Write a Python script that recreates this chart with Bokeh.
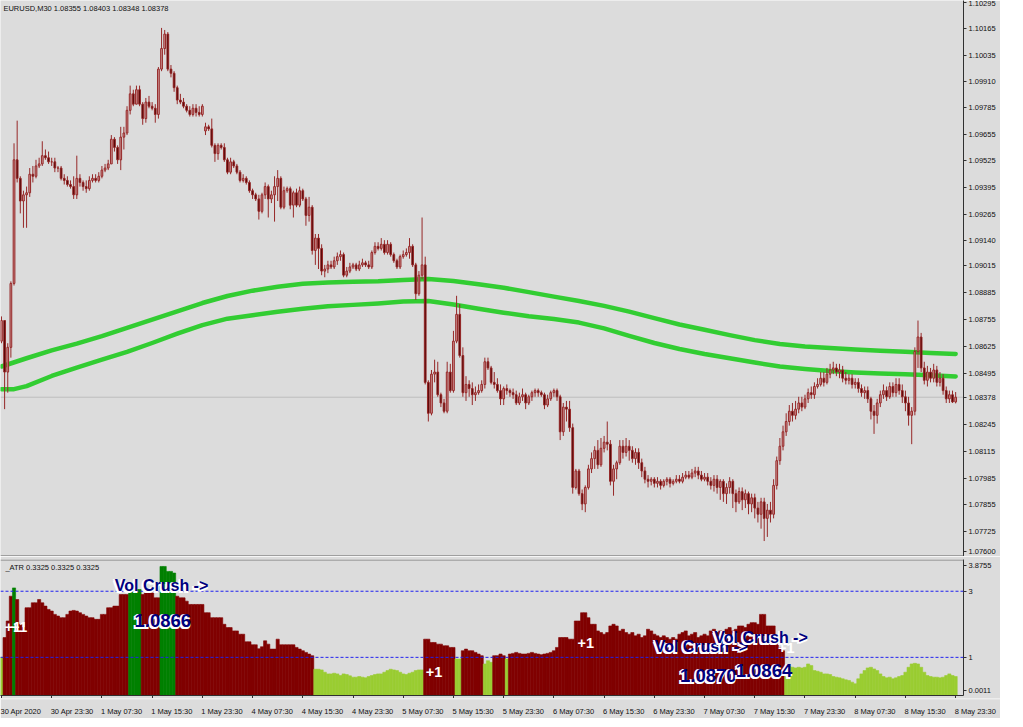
from bokeh.plotting import figure
from bokeh.models import Range1d, FixedTicker, Span, Label, ColumnDataSource, PrintfTickFormatter
from bokeh.layouts import column
from bokeh.embed import file_html
from bokeh.resources import INLINE

# ---------------- data (EURUSD M30) ----------------
opens = [
 1.0865, 1.0875, 1.0850, 1.0862, 1.0893, 1.0953, 1.0944, 1.0933, 1.0936, 1.0937,
 1.0946, 1.0945, 1.0950, 1.0951, 1.0955, 1.0954, 1.0952, 1.0952, 1.0949, 1.0949,
 1.0944, 1.0943, 1.0941, 1.0940, 1.0936, 1.0944, 1.0942, 1.0940, 1.0939, 1.0943,
 1.0944, 1.0943, 1.0945, 1.0948, 1.0949, 1.0951, 1.0963, 1.0959, 1.0953, 1.0964,
 1.0966, 1.0977, 1.0985, 1.0980, 1.0987, 1.0980, 1.0973, 1.0981, 1.0979, 1.0978,
 1.0975, 1.0997, 1.1007, 1.1014, 1.0997, 1.0995, 1.0988, 1.0982, 1.0981, 1.0979,
 1.0977, 1.0975, 1.0978, 1.0976, 1.0975, 1.0967, 1.0969, 1.0968, 1.0960, 1.0956,
 1.0960, 1.0959, 1.0953, 1.0947, 1.0952, 1.0950, 1.0947, 1.0943, 1.0944, 1.0942,
 1.0938, 1.0936, 1.0934, 1.0928, 1.0936, 1.0940, 1.0934, 1.0936, 1.0940, 1.0944,
 1.0930, 1.0938, 1.0939, 1.0931, 1.0937, 1.0931, 1.0938, 1.0934, 1.0926, 1.0930,
 1.0909, 1.0915, 1.0910, 1.0899, 1.0900, 1.0902, 1.0901, 1.0904, 1.0906, 1.0907,
 1.0897, 1.0899, 1.0901, 1.0902, 1.0900, 1.0902, 1.0903, 1.0902, 1.0901, 1.0908,
 1.0911, 1.0910, 1.0912, 1.0908, 1.0912, 1.0907, 1.0904, 1.0901, 1.0906, 1.0907,
 1.0908, 1.0911, 1.0902, 1.0888, 1.0897, 1.0902, 1.0845, 1.0830, 1.0849, 1.0850,
 1.0839, 1.0835, 1.0831, 1.0850, 1.0841, 1.0865, 1.0878, 1.0858, 1.0840, 1.0844,
 1.0842, 1.0839, 1.0840, 1.0841, 1.0844, 1.0855, 1.0852, 1.0845, 1.0844, 1.0841,
 1.0837, 1.0842, 1.0841, 1.0840, 1.0839, 1.0835, 1.0838, 1.0839, 1.0835, 1.0838,
 1.0840, 1.0841, 1.0840, 1.0839, 1.0834, 1.0837, 1.0840, 1.0841, 1.0838, 1.0821,
 1.0833, 1.0832, 1.0823, 1.0794, 1.0802, 1.0791, 1.0786, 1.0794, 1.0803, 1.0808,
 1.0812, 1.0805, 1.0813, 1.0816, 1.0815, 1.0797, 1.0803, 1.0806, 1.0814, 1.0811,
 1.0814, 1.0812, 1.0808, 1.0811, 1.0806, 1.0802, 1.0798, 1.0797, 1.0798, 1.0796,
 1.0797, 1.0795, 1.0797, 1.0798, 1.0796, 1.0797, 1.0798, 1.0797, 1.0799, 1.0800,
 1.0799, 1.0801, 1.0802, 1.0800, 1.0798, 1.0799, 1.0797, 1.0795, 1.0798, 1.0794,
 1.0797, 1.0791, 1.0794, 1.0797, 1.0791, 1.0787, 1.0792, 1.0788, 1.0791, 1.0786,
 1.0789, 1.0784, 1.0781, 1.0787, 1.0779, 1.0783, 1.0781, 1.0795, 1.0807, 1.0814,
 1.0821, 1.0826, 1.0831, 1.0829, 1.0832, 1.0835, 1.0833, 1.0837, 1.0840, 1.0839,
 1.0843, 1.0844, 1.0847, 1.0845, 1.0849, 1.0851, 1.0852, 1.0850, 1.0851, 1.0847,
 1.0846, 1.0847, 1.0844, 1.0845, 1.0842, 1.0840, 1.0841, 1.0837, 1.0831, 1.0829,
 1.0835, 1.0839, 1.0841, 1.0838, 1.0843, 1.0840, 1.0844, 1.0841, 1.0838, 1.0835,
 1.0829, 1.0831, 1.0860, 1.0867, 1.0852, 1.0846, 1.0850, 1.0847, 1.0851, 1.0845,
 1.0847, 1.0841, 1.0837, 1.0839, 1.08355]

highs = [
 1.0877, 1.0875, 1.0864, 1.0894, 1.0961, 1.0972, 1.0945, 1.0938, 1.0940, 1.0949,
 1.0950, 1.0953, 1.0954, 1.0962, 1.0958, 1.0957, 1.0954, 1.0954, 1.0950, 1.0950,
 1.0946, 1.0945, 1.0943, 1.0945, 1.0955, 1.0946, 1.0943, 1.0943, 1.0945, 1.0946,
 1.0946, 1.0947, 1.0950, 1.0951, 1.0953, 1.0965, 1.0964, 1.0960, 1.0969, 1.0969,
 1.0979, 1.0989, 1.0987, 1.0989, 1.0989, 1.0981, 1.0983, 1.0984, 1.0981, 1.0980,
 1.0998, 1.1017, 1.1016, 1.1015, 1.0999, 1.0996, 1.0989, 1.0985, 1.0983, 1.0980,
 1.0979, 1.0980, 1.0980, 1.0979, 1.0980, 1.0971, 1.0970, 1.0973, 1.0961, 1.0961,
 1.0961, 1.0961, 1.0954, 1.0954, 1.0953, 1.0951, 1.0948, 1.0946, 1.0945, 1.0943,
 1.0939, 1.0937, 1.0936, 1.0937, 1.0942, 1.0941, 1.0938, 1.0945, 1.0948, 1.0945,
 1.0940, 1.0940, 1.0940, 1.0938, 1.0939, 1.0940, 1.0939, 1.0935, 1.0935, 1.0931,
 1.0917, 1.0917, 1.0912, 1.0902, 1.0904, 1.0904, 1.0906, 1.0908, 1.0909, 1.0908,
 1.0901, 1.0903, 1.0903, 1.0903, 1.0904, 1.0905, 1.0904, 1.0904, 1.0909, 1.0913,
 1.0913, 1.0915, 1.0914, 1.0914, 1.0913, 1.0908, 1.0905, 1.0907, 1.0909, 1.0910,
 1.0915, 1.0912, 1.0903, 1.0899, 1.0925, 1.0906, 1.0846, 1.0851, 1.0856, 1.0855,
 1.0840, 1.0837, 1.0855, 1.0854, 1.0870, 1.0887, 1.0883, 1.0862, 1.0848, 1.0846,
 1.0845, 1.0843, 1.0844, 1.0846, 1.0857, 1.0857, 1.0853, 1.0850, 1.0847, 1.0844,
 1.0843, 1.0844, 1.0842, 1.0842, 1.0841, 1.0840, 1.0842, 1.0840, 1.0839, 1.0841,
 1.0842, 1.0842, 1.0841, 1.0840, 1.0839, 1.0841, 1.0842, 1.0842, 1.0839, 1.0835,
 1.0836, 1.0836, 1.0825, 1.0803, 1.0803, 1.0793, 1.0795, 1.0805, 1.0811, 1.0814,
 1.0817, 1.0818, 1.0819, 1.0826, 1.0817, 1.0805, 1.0807, 1.0817, 1.0817, 1.0818,
 1.0817, 1.0814, 1.0813, 1.0813, 1.0808, 1.0804, 1.0800, 1.0799, 1.0799, 1.0799,
 1.0798, 1.0798, 1.0799, 1.0799, 1.0798, 1.0800, 1.0800, 1.0801, 1.0802, 1.0802,
 1.0803, 1.0804, 1.0804, 1.0802, 1.0801, 1.0801, 1.0799, 1.0800, 1.0800, 1.0798,
 1.0798, 1.0796, 1.0799, 1.0798, 1.0793, 1.0794, 1.0794, 1.0793, 1.0792, 1.0791,
 1.0791, 1.0787, 1.0789, 1.0789, 1.0786, 1.0787, 1.0798, 1.0809, 1.0818, 1.0824,
 1.0830, 1.0834, 1.0835, 1.0836, 1.0838, 1.0838, 1.0839, 1.0842, 1.0843, 1.0845,
 1.0847, 1.0850, 1.0850, 1.0852, 1.0854, 1.0855, 1.0854, 1.0854, 1.0853, 1.0850,
 1.0849, 1.0849, 1.0847, 1.0847, 1.0844, 1.0843, 1.0843, 1.0838, 1.0834, 1.0837,
 1.0841, 1.0844, 1.0843, 1.0845, 1.0845, 1.0847, 1.0847, 1.0844, 1.0841, 1.0838,
 1.0833, 1.0862, 1.0875, 1.0869, 1.0855, 1.0853, 1.0852, 1.0854, 1.0853, 1.0850,
 1.0849, 1.0843, 1.0841, 1.0841, 1.08403]

lows = [
 1.0864, 1.0832, 1.0840, 1.0857, 1.0892, 1.0942, 1.0927, 1.0920, 1.0920, 1.0935,
 1.0942, 1.0944, 1.0949, 1.0950, 1.0953, 1.0951, 1.0950, 1.0947, 1.0947, 1.0943,
 1.0941, 1.0940, 1.0939, 1.0934, 1.0934, 1.0940, 1.0938, 1.0937, 1.0938, 1.0942,
 1.0942, 1.0942, 1.0944, 1.0947, 1.0948, 1.0951, 1.0957, 1.0951, 1.0948, 1.0958,
 1.0965, 1.0975, 1.0979, 1.0980, 1.0979, 1.0970, 1.0971, 1.0978, 1.0977, 1.0971,
 1.0973, 1.0996, 1.1004, 1.0996, 1.0993, 1.0986, 1.0980, 1.0980, 1.0978, 1.0976,
 1.0974, 1.0974, 1.0974, 1.0974, 1.0974, 1.0965, 1.0967, 1.0959, 1.0952, 1.0953,
 1.0958, 1.0952, 1.0946, 1.0946, 1.0949, 1.0946, 1.0942, 1.0942, 1.0941, 1.0937,
 1.0934, 1.0933, 1.0924, 1.0927, 1.0934, 1.0925, 1.0932, 1.0923, 1.0933, 1.0929,
 1.0929, 1.0937, 1.0929, 1.0925, 1.0930, 1.0930, 1.0933, 1.0921, 1.0923, 1.0907,
 1.0902, 1.0900, 1.0897, 1.0896, 1.0898, 1.0900, 1.0900, 1.0902, 1.0904, 1.0896,
 1.0896, 1.0898, 1.0900, 1.0899, 1.0899, 1.0901, 1.0901, 1.0900, 1.0900, 1.0907,
 1.0909, 1.0909, 1.0907, 1.0907, 1.0906, 1.0903, 1.0900, 1.0900, 1.0905, 1.0906,
 1.0905, 1.0901, 1.0885, 1.0887, 1.0895, 1.0844, 1.0826, 1.0829, 1.0845, 1.0838,
 1.0833, 1.0830, 1.0830, 1.0840, 1.0840, 1.0864, 1.0857, 1.0838, 1.0836, 1.0838,
 1.0834, 1.0836, 1.0839, 1.0840, 1.0842, 1.0851, 1.0844, 1.0842, 1.0840, 1.0834,
 1.0834, 1.0839, 1.0838, 1.0837, 1.0834, 1.0834, 1.0836, 1.0832, 1.0834, 1.0836,
 1.0838, 1.0838, 1.0838, 1.0832, 1.0833, 1.0836, 1.0838, 1.0836, 1.0817, 1.0819,
 1.0826, 1.0821, 1.0791, 1.0793, 1.0790, 1.0783, 1.0782, 1.0793, 1.0801, 1.0803,
 1.0803, 1.0804, 1.0811, 1.0812, 1.0795, 1.0790, 1.0798, 1.0805, 1.0808, 1.0809,
 1.0807, 1.0806, 1.0805, 1.0803, 1.0799, 1.0796, 1.0794, 1.0795, 1.0794, 1.0794,
 1.0793, 1.0794, 1.0795, 1.0794, 1.0795, 1.0796, 1.0796, 1.0796, 1.0798, 1.0798,
 1.0798, 1.0799, 1.0798, 1.0797, 1.0797, 1.0795, 1.0793, 1.0792, 1.0791, 1.0788,
 1.0787, 1.0786, 1.0791, 1.0784, 1.0782, 1.0786, 1.0783, 1.0784, 1.0781, 1.0782,
 1.0779, 1.0777, 1.0774, 1.0768, 1.0770, 1.0777, 1.0779, 1.0793, 1.0805, 1.0812,
 1.0819, 1.0824, 1.0826, 1.0827, 1.0830, 1.0831, 1.0832, 1.0835, 1.0837, 1.0837,
 1.0842, 1.0843, 1.0843, 1.0844, 1.0847, 1.0849, 1.0848, 1.0847, 1.0845, 1.0844,
 1.0844, 1.0842, 1.0842, 1.0840, 1.0838, 1.0837, 1.0835, 1.0827, 1.0820, 1.0825,
 1.0833, 1.0837, 1.0836, 1.0837, 1.0838, 1.0838, 1.0839, 1.0835, 1.0831, 1.0824,
 1.0815, 1.0829, 1.0852, 1.0850, 1.0844, 1.0843, 1.0845, 1.0845, 1.0843, 1.0843,
 1.0839, 1.0835, 1.0835, 1.0835, 1.08348]

closes = [
 1.0875, 1.0850, 1.0862, 1.0893, 1.0953, 1.0944, 1.0933, 1.0936, 1.0937, 1.0946,
 1.0945, 1.0950, 1.0951, 1.0955, 1.0954, 1.0952, 1.0952, 1.0949, 1.0949, 1.0944,
 1.0943, 1.0941, 1.0940, 1.0936, 1.0944, 1.0942, 1.0940, 1.0939, 1.0943, 1.0944,
 1.0943, 1.0945, 1.0948, 1.0949, 1.0951, 1.0963, 1.0959, 1.0953, 1.0964, 1.0966,
 1.0977, 1.0985, 1.0980, 1.0987, 1.0980, 1.0973, 1.0981, 1.0979, 1.0978, 1.0975,
 1.0997, 1.1007, 1.1014, 1.0997, 1.0995, 1.0988, 1.0982, 1.0981, 1.0979, 1.0977,
 1.0975, 1.0978, 1.0976, 1.0975, 1.0979, 1.0969, 1.0968, 1.0960, 1.0956, 1.0960,
 1.0959, 1.0953, 1.0947, 1.0952, 1.0950, 1.0947, 1.0943, 1.0944, 1.0942, 1.0938,
 1.0936, 1.0934, 1.0928, 1.0936, 1.0940, 1.0934, 1.0936, 1.0940, 1.0944, 1.0930,
 1.0938, 1.0939, 1.0931, 1.0937, 1.0931, 1.0938, 1.0934, 1.0926, 1.0930, 1.0909,
 1.0915, 1.0910, 1.0899, 1.0900, 1.0902, 1.0901, 1.0904, 1.0906, 1.0907, 1.0897,
 1.0899, 1.0901, 1.0902, 1.0900, 1.0902, 1.0903, 1.0902, 1.0901, 1.0908, 1.0911,
 1.0910, 1.0912, 1.0908, 1.0912, 1.0907, 1.0904, 1.0901, 1.0906, 1.0907, 1.0908,
 1.0911, 1.0902, 1.0888, 1.0897, 1.0902, 1.0845, 1.0830, 1.0849, 1.0850, 1.0839,
 1.0835, 1.0831, 1.0850, 1.0841, 1.0865, 1.0878, 1.0858, 1.0840, 1.0844, 1.0842,
 1.0839, 1.0840, 1.0841, 1.0844, 1.0855, 1.0852, 1.0845, 1.0844, 1.0841, 1.0837,
 1.0842, 1.0841, 1.0840, 1.0839, 1.0835, 1.0838, 1.0839, 1.0835, 1.0838, 1.0840,
 1.0841, 1.0840, 1.0839, 1.0834, 1.0837, 1.0840, 1.0841, 1.0838, 1.0821, 1.0833,
 1.0832, 1.0823, 1.0794, 1.0802, 1.0791, 1.0786, 1.0794, 1.0803, 1.0808, 1.0812,
 1.0805, 1.0813, 1.0816, 1.0815, 1.0797, 1.0803, 1.0806, 1.0814, 1.0811, 1.0814,
 1.0812, 1.0808, 1.0811, 1.0806, 1.0802, 1.0798, 1.0797, 1.0798, 1.0796, 1.0797,
 1.0795, 1.0797, 1.0798, 1.0796, 1.0797, 1.0798, 1.0797, 1.0799, 1.0800, 1.0799,
 1.0801, 1.0802, 1.0800, 1.0798, 1.0799, 1.0797, 1.0795, 1.0798, 1.0794, 1.0797,
 1.0791, 1.0794, 1.0797, 1.0791, 1.0787, 1.0792, 1.0788, 1.0791, 1.0786, 1.0789,
 1.0784, 1.0781, 1.0787, 1.0779, 1.0783, 1.0781, 1.0795, 1.0807, 1.0814, 1.0821,
 1.0826, 1.0831, 1.0829, 1.0832, 1.0835, 1.0833, 1.0837, 1.0840, 1.0839, 1.0843,
 1.0844, 1.0847, 1.0845, 1.0849, 1.0851, 1.0852, 1.0850, 1.0851, 1.0847, 1.0846,
 1.0847, 1.0844, 1.0845, 1.0842, 1.0840, 1.0841, 1.0837, 1.0831, 1.0829, 1.0835,
 1.0839, 1.0841, 1.0838, 1.0843, 1.0840, 1.0844, 1.0841, 1.0838, 1.0835, 1.0829,
 1.0831, 1.0860, 1.0867, 1.0852, 1.0846, 1.0850, 1.0847, 1.0851, 1.0845, 1.0847,
 1.0841, 1.0837, 1.0839, 1.08355, 1.08378]

# two moving averages, read at these bar numbers
ma_fast_bars = [0, 8, 16, 24, 32, 40, 48, 56, 64, 72, 80, 88, 96, 104, 112, 120, 128, 136, 144, 152,
                160, 168, 176, 184, 192, 200, 208, 216, 224, 232, 240, 248, 256, 264, 272, 280, 288, 296, 304]
ma_fast = [1.08527, 1.08567, 1.08605, 1.08638, 1.08674, 1.08714, 1.08755, 1.08795, 1.08835, 1.08869,
           1.08895, 1.08914, 1.08928, 1.08935, 1.08938, 1.08941, 1.08947, 1.08952, 1.08942, 1.08926,
           1.08909, 1.08888, 1.08866, 1.08845, 1.08821, 1.08793, 1.08762, 1.08731, 1.08705, 1.08679,
           1.08655, 1.08636, 1.08624, 1.08617, 1.08610, 1.08603, 1.08598, 1.08593, 1.08588]
ma_slow_bars = [0, 4, 8, 16, 24, 32, 40, 48, 56, 64, 72, 80, 88, 96, 104, 112, 120, 128, 136, 144,
                152, 160, 168, 176, 184, 192, 200, 208, 216, 224, 232, 240, 248, 256, 264, 272, 280, 288, 296, 304]
ma_slow = [1.08417, 1.08417, 1.08432, 1.08481, 1.08522, 1.08560, 1.08598, 1.08641, 1.08686, 1.08728,
           1.08759, 1.08776, 1.08793, 1.08807, 1.08819, 1.08826, 1.08833, 1.08842, 1.08845, 1.08828,
           1.08807, 1.08788, 1.08771, 1.08757, 1.08740, 1.08712, 1.08676, 1.08641, 1.08612, 1.08588,
           1.08567, 1.08546, 1.08527, 1.08515, 1.08505, 1.08498, 1.08493, 1.08489, 1.08484, 1.08479]

# ATR histogram
atr = [
 1.0, 1.6, 2.1, 2.85, 3.1, 2.75, 2.0, 1.9, 2.5, 2.5,
 2.65, 2.65, 2.75, 2.65, 2.55, 2.45, 2.4, 2.3, 2.25, 2.2,
 2.2, 2.3, 2.4, 2.42, 2.4, 2.35, 2.3, 2.25, 2.2, 2.2,
 2.15, 2.15, 2.3, 2.3, 2.5, 2.5, 2.55, 2.55, 2.9, 2.9,
 2.9, 3.05, 3.05, 3.05, 3.05, 2.9, 2.95, 2.95, 2.95, 2.8,
 2.8, 3.75, 3.75, 3.6, 3.6, 3.55, 2.85, 2.8, 2.8, 2.7,
 2.6, 2.6, 2.6, 2.6, 2.6, 2.35, 2.35, 2.2, 2.2, 2.2,
 2.2, 2.0, 1.9, 1.9, 1.8, 1.8, 1.7, 1.7, 1.47, 1.47,
 1.38, 1.38, 1.26, 1.32, 1.5, 1.4, 1.25, 1.25, 1.55, 1.38,
 1.38, 1.38, 1.38, 1.38, 1.3, 1.25, 1.2, 1.15, 1.1, 1.05,
 0.64, 0.64, 0.62, 0.55, 0.5, 0.5, 0.52, 0.5, 0.45, 0.5,
 0.48, 0.44, 0.4, 0.4, 0.42, 0.4, 0.38, 0.42, 0.45, 0.48,
 0.5, 0.5, 0.55, 0.6, 0.64, 0.62, 0.6, 0.55, 0.5, 0.48,
 0.52, 0.55, 0.6, 0.62, 0.62, 1.55, 1.55, 1.45, 1.45, 1.4,
 1.4, 1.35, 1.35, 1.3, 1.3, 0.95, 0.95, 1.2, 1.25, 1.2,
 1.2, 1.15, 1.1, 1.05, 0.8, 0.9, 0.85, 1.05, 1.05, 1.1,
 1.05, 0.95, 1.1, 1.12, 1.15, 1.12, 1.1, 1.1, 1.12, 1.15,
 1.12, 1.1, 1.08, 1.1, 1.12, 1.15, 1.2, 1.3, 1.6, 1.6,
 1.6, 1.55, 1.55, 2.1, 2.1, 2.35, 2.35, 2.2, 2.0, 2.0,
 1.8, 1.75, 1.7, 1.75, 1.95, 2.0, 1.95, 1.8, 1.85, 1.75,
 1.7, 1.75, 1.65, 1.7, 1.6, 1.65, 1.85, 1.8, 1.7, 1.65,
 1.6, 1.65, 1.6, 1.55, 1.6, 1.55, 1.7, 1.75, 1.8, 1.65,
 1.7, 1.75, 1.6, 1.65, 1.7, 1.65, 1.8, 1.85, 1.75, 1.8,
 1.7, 1.85, 1.9, 1.8, 1.85, 1.95, 1.95, 1.9, 2.0, 2.05,
 2.05, 2.0, 2.3, 2.3, 1.95, 1.95, 1.95, 1.5, 1.3, 1.2,
 0.7, 0.72, 0.7, 0.68, 0.7, 0.68, 0.7, 0.8, 0.75, 0.6,
 0.58, 0.55, 0.5, 0.5, 0.48, 0.42, 0.4, 0.38, 0.35, 0.32,
 0.3, 0.25, 0.2, 0.35, 0.5, 0.6, 0.68, 0.7, 0.65, 0.6,
 0.5, 0.42, 0.38, 0.4, 0.35, 0.38, 0.42, 0.45, 0.55, 0.7,
 0.8, 0.82, 0.8, 0.7, 0.55, 0.45, 0.42, 0.4, 0.4, 0.38,
 0.4, 0.45, 0.5, 0.45, 0.42]
# volatility state of each bar, as runs: (state, number of bars)
zone_runs = [("low", 1), ("high", 3), ("spike", 1), ("high", 36), ("spike", 4), ("high", 6), ("spike", 5),
             ("high", 44), ("low", 35), ("high", 10), ("low", 2), ("high", 7), ("low", 3), ("high", 4),
             ("low", 1), ("high", 88), ("low", 55)]

last_price = 1.08378
price_ticks = [1.10295, 1.10165, 1.10035, 1.09910, 1.09785, 1.09655, 1.09525, 1.09395, 1.09265, 1.09140,
               1.09015, 1.08885, 1.08755, 1.08625, 1.08495, last_price, 1.08245, 1.08115, 1.07985, 1.07855,
               1.07725, 1.07630]
price_tick_text = {1.07630: "1.07600"}
atr_ticks = [0.0011, 1, 3, 3.78]
atr_tick_text = {0.0011: "0.0011", 1: "1", 3: "3", 3.78: "3.8755"}
atr_levels = [3, 1]
time_label_bars = [0, 16, 32, 48, 64, 80, 96, 112, 128, 144, 160, 176, 192, 208, 224, 240, 256, 272, 288, 304]
time_labels = ["30 Apr 2020", "30 Apr 23:30", "1 May 07:30", "1 May 15:30", "1 May 23:30", "4 May 07:30",
               "4 May 15:30", "4 May 23:30", "5 May 07:30", "5 May 15:30", "5 May 23:30", "6 May 07:30",
               "6 May 15:30", "6 May 23:30", "7 May 07:30", "7 May 15:30", "7 May 23:30", "8 May 07:30",
               "8 May 15:30", "8 May 23:30"]
title_text = "EURUSD,M30  1.08355 1.08403 1.08348 1.08378"
atr_title = "_ATR 0.3325 0.3325 0.3325"
# chart objects in the ATR window: (bar, value, text, kind)
marks = [
    (36.1, 3.16, "Vol Crush ->", "crush"),
    (42.4, 2.12, "1.0866", "level"),
    (1.0, 1.92, "+1", "plus"),
    (3.0, 1.92, "+1", "plus"),
    (135.2, 0.56, "+1", "plus"),
    (183.5, 1.44, "+1", "plus"),
    (208.1, 1.33, "Vol Crush ->", "crush"),
    (216.2, 0.44, "1.0870", "level"),
    (247.4, 1.27, "+1", "plus"),
    (227.1, 1.59, "Vol Crush ->", "crush"),
    (233.9, 0.59, "1.0864", "level"),
]

# ---------------- styling ----------------
BG = "#DCDCDC"
FONT = "Liberation Sans"
WICK = "#962828"
BULL = "#CD9696"
BEAR = "#4A0000"
ZONE_COL = {"high": "#800000", "spike": "#008000", "low": "#9ACD32"}
W, TOP_H, BOT_H, RB = 1000, 556, 142, 37
X0, X1 = -0.31, 306.5
FRAME_W = W - RB
UNITS_PER_PX = (X1 - X0) / FRAME_W
AXIS_FONT_PX = 7.5

n = len(closes)
idx = list(range(n))
x_rng = Range1d(X0, X1)

top = figure(width=W, height=TOP_H, x_range=x_rng, y_range=Range1d(1.07605, 1.10303),
             x_axis_location=None, y_axis_location="right", toolbar_location=None,
             output_backend="svg", background_fill_color=BG, border_fill_color=BG,
             outline_line_color=None, min_border_left=0, min_border_top=0,
             min_border_bottom=0, min_border_right=RB)
top.grid.visible = False

top.add_layout(Span(location=last_price, dimension="width", line_color="#BDBDBD", line_width=1, level="underlay"))
top.add_layout(Span(location=1.07608, dimension="width", line_color="#7A7A7A", line_width=1))

top.line(ma_fast_bars, ma_fast, line_color="#32CD32", line_width=4.5, line_join="round", line_cap="round")
top.line(ma_slow_bars, ma_slow, line_color="#32CD32", line_width=4.5, line_join="round", line_cap="round")

src = ColumnDataSource(dict(
    x=idx, h=highs, l=lows,
    top=[max(o, c) for o, c in zip(opens, closes)],
    bot=[min(o, c) for o, c in zip(opens, closes)],
    fill=[BULL if c >= o else BEAR for o, c in zip(opens, closes)]))
top.segment(x0="x", y0="l", x1="x", y1="h", source=src, line_color=WICK, line_width=1)
top.vbar(x="x", width=0.55, top="top", bottom="bot", fill_color="fill", line_color=WICK, line_width=1, source=src)

ya = top.yaxis[0]
ya.ticker = FixedTicker(ticks=price_ticks)
ya.formatter = PrintfTickFormatter(format="%.5f")
ya.major_label_overrides = price_tick_text

top.add_layout(Label(x=0.62, y=1.10265, text=title_text, text_font=FONT, text_font_size="7.5px",
                     text_color="#101010", text_align="left", text_baseline="middle"))

# ---------------- lower panel ----------------
bot = figure(width=W, height=BOT_H, x_range=x_rng, y_range=Range1d(-0.154, 3.96),
             y_axis_location="right", toolbar_location=None, output_backend="svg",
             background_fill_color=BG, border_fill_color=BG, outline_line_color=None,
             min_border_left=0, min_border_top=3, min_border_bottom=0, min_border_right=RB)
bot.grid.visible = False

zones = []
for state, count in zone_runs:
    zones += [state] * count
zcol = [ZONE_COL[z] for z in zones]
bot.vbar(x=idx, width=1.0, top=atr, bottom=-0.154, fill_color=zcol, line_color=zcol, line_width=0.6)
for lv in atr_levels:
    bot.add_layout(Span(location=lv, dimension="width", line_color="#2020F0", line_dash="3 2", line_width=1))
bot.add_layout(Span(location=3.945, dimension="width", line_color="#7A7A7A", line_width=1))

ya2 = bot.yaxis[0]
ya2.ticker = FixedTicker(ticks=atr_ticks)
ya2.major_label_overrides = atr_tick_text

# time axis line and tick marks at the labelled bars
xa = bot.xaxis[0]
xa.ticker = FixedTicker(ticks=time_label_bars)
xa.major_label_overrides = {b: "" for b in time_label_bars}
xa.major_label_text_font_size = "1px"
xa.major_label_standoff = 0
xa.major_tick_out = 3
xa.major_tick_in = 0
xa.minor_tick_out = 0
xa.minor_tick_in = 0
xa.axis_line_color = "#303030"
xa.major_tick_line_color = "#303030"

for ax in (ya, ya2):
    ax.major_tick_out = 3
    ax.major_tick_in = 0
    ax.minor_tick_out = 0
    ax.minor_tick_in = 0
    ax.major_label_standoff = 2
    ax.axis_line_color = "#303030"
    ax.major_tick_line_color = "#303030"
    ax.major_label_text_font = FONT
    ax.major_label_text_font_size = "7.5px"
    ax.major_label_text_color = "#101010"

bot.add_layout(Label(x=1.25, y=3.73, text=atr_title, text_font=FONT, text_font_size="7.5px",
                     text_color="#101010", text_align="left", text_baseline="middle"))


def outlined(fig, x, y, text, size, color, shadow):
    for dx, dy in ((-2, 0), (-2, -2), (0, -2), (-1, -1)):
        fig.add_layout(Label(x=x, y=y, x_offset=dx, y_offset=dy, text=text, text_font=FONT,
                             text_font_size=size, text_font_style="bold", text_color=shadow,
                             text_align="left", text_baseline="middle"))
    fig.add_layout(Label(x=x, y=y, text=text, text_font=FONT, text_font_size=size,
                         text_font_style="bold", text_color=color, text_align="left",
                         text_baseline="middle"))


for bx, vy, txt, kind in marks:
    if kind == "crush":
        outlined(bot, bx, vy, txt, "16px", "#000080", "white")
    elif kind == "level":
        outlined(bot, bx, vy, txt, "18.5px", "#000080", "white")
    else:
        bot.add_layout(Label(x=bx, y=vy, text=txt, text_font=FONT, text_font_size="14.5px",
                             text_font_style="bold", text_color="white", text_align="left",
                             text_baseline="middle"))

# ---------------- time labels: a strip as wide as the whole chart, same bar scale ----------------
CHAR_EM = {" ": 0.278, ":": 0.278, "A": 0.667, "p": 0.556, "r": 0.333, "M": 0.833, "a": 0.556, "y": 0.5}


def half_width_units(s):
    em = sum(CHAR_EM.get(ch, 0.556) for ch in s)
    return (em * AXIS_FONT_PX / 2 - 1.0) * UNITS_PER_PX


label_pos = [round(b + half_width_units(t), 3) for b, t in zip(time_label_bars, time_labels)]
strip = figure(width=W, frame_width=W, frame_height=1, x_range=Range1d(X0, X0 + W * UNITS_PER_PX),
               y_range=Range1d(0, 1), y_axis_location=None, toolbar_location=None, output_backend="svg",
               background_fill_color=BG, border_fill_color=BG, outline_line_color=None,
               min_border_left=0, min_border_right=0, min_border_top=0, min_border_bottom=0)
strip.grid.visible = False
xs = strip.xaxis[0]
xs.ticker = FixedTicker(ticks=label_pos)
xs.major_label_overrides = {p: t for p, t in zip(label_pos, time_labels)}
xs.axis_line_color = None
xs.major_tick_line_color = None
xs.minor_tick_line_color = None
xs.major_label_standoff = 1
xs.major_label_text_font = FONT
xs.major_label_text_font_size = "7.5px"
xs.major_label_text_color = "#101010"

layout = column(top, bot, strip, spacing=0)
open("out.html", "w").write(file_html(layout, INLINE))
